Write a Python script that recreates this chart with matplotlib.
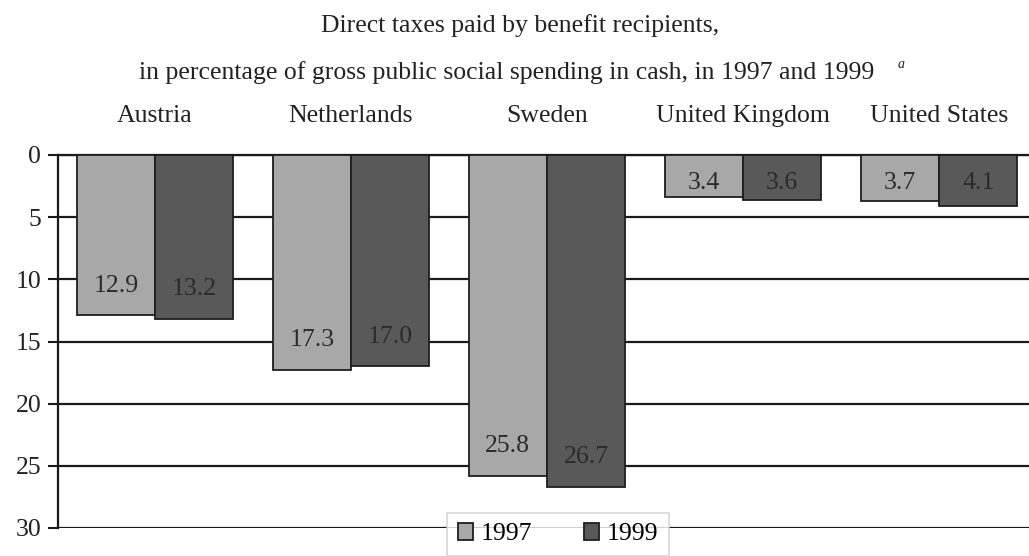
import matplotlib
matplotlib.use("Agg")
import matplotlib.pyplot as plt
import numpy as np

countries = ["Austria", "Netherlands", "Sweden", "United Kingdom", "United States"]
years = ["1997", "1999"]
values_1997 = [12.9, 17.3, 25.8, 3.4, 3.7]
values_1999 = [13.2, 17.0, 26.7, 3.6, 4.1]
y_ticks = [0, 5, 10, 15, 20, 25, 30]

plt.rcParams["font.family"] = ["Liberation Serif", "DejaVu Serif"]
FS = 18.5

W, H = 1029, 556
fig = plt.figure(figsize=(W / 100, H / 100), dpi=100)
fig.patch.set_facecolor("white")

ax = fig.add_axes([58 / W, 28 / H, 1 - 58 / W, (528 - 155) / H])

x = np.arange(len(countries))
bw = 0.4
c97, c99 = "#a8a8a8", "#595959"
edge = "#1e1e1e"

ax.set_axisbelow(True)
ax.yaxis.grid(True, color="#1a1a1a", linewidth=1.6)
b1 = ax.bar(x - bw / 2, values_1997, bw, color=c97, edgecolor=edge, linewidth=1.3, label=years[0], zorder=3)
b2 = ax.bar(x + bw / 2, values_1999, bw, color=c99, edgecolor=edge, linewidth=1.3, label=years[1], zorder=3)

for bars, vals in ((b1, values_1997), (b2, values_1999)):
    for rect, v in zip(bars, vals):
        ypos = max(v - 2.4, 2.25)
        ax.text(rect.get_x() + rect.get_width() / 2, ypos, f"{v:.1f}",
                ha="center", va="center", fontsize=FS, color="#2a2a2a", zorder=4)

ax.set_ylim(30, 0)
ax.set_xlim(-0.495, (W - 155) / 196.0)
ax.set_yticks(y_ticks)
ax.set_yticklabels([str(t) for t in y_ticks], fontsize=FS, color="#222222")
ax.tick_params(axis="y", length=7, width=1.5, color="#1a1a1a", pad=5)

ax.xaxis.tick_top()
ax.set_xticks(x)
ax.set_xticklabels(countries, fontsize=FS, color="#222222")
ax.tick_params(axis="x", length=0, pad=20)

for side in ("right", "bottom"):
    ax.spines[side].set_visible(False)
ax.spines["left"].set_color("#1a1a1a")
ax.spines["left"].set_linewidth(1.6)
ax.spines["top"].set_color("#1a1a1a")
ax.spines["top"].set_linewidth(1.6)

fig.text(520 / W, 1 - 26 / H, "Direct taxes paid by benefit recipients,",
         ha="center", va="center", fontsize=FS, color="#222222")
fig.text(507 / W, 1 - 73 / H, "in percentage of gross public social spending in cash, in 1997 and 1999",
         ha="center", va="center", fontsize=FS, color="#222222")
fig.text(901 / W, 1 - 64 / H, "a", ha="center", va="center", fontsize=10,
         style="italic", color="#222222")

leg = fig.legend(handles=[b1, b2], labels=years, loc="upper center",
                 bbox_to_anchor=(558 / W, 1 - 513 / H), borderaxespad=0, ncol=2, frameon=True,
                 fontsize=FS, handlelength=0.6, handleheight=0.6, handletextpad=0.3,
                 columnspacing=2.0, borderpad=0.4, fancybox=False)
leg.get_frame().set_edgecolor("#cccccc")
leg.get_frame().set_linewidth(1.2)

fig.savefig("out.png", dpi=100, facecolor="white")
